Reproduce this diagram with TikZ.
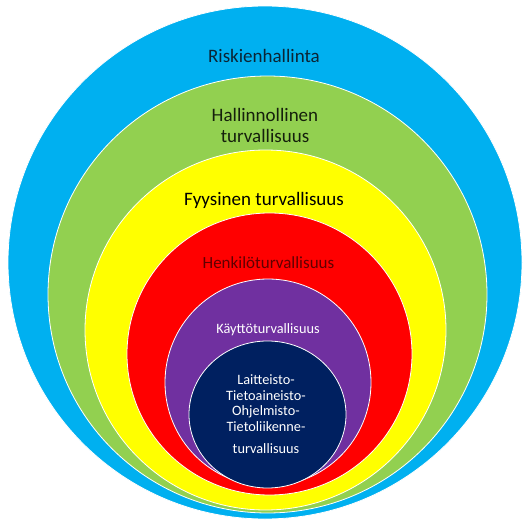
\documentclass[tikz,border=0pt]{standalone}
\usepackage{fontspec}
\setmainfont{Carlito}
\definecolor{cblue}{HTML}{00B0F0}
\definecolor{cgreen}{HTML}{92D050}
\definecolor{cyellow}{HTML}{FFFF00}
\definecolor{cred}{HTML}{FF0000}
\definecolor{cpurple}{HTML}{7030A0}
\definecolor{cnavy}{HTML}{002060}
\definecolor{tblue}{HTML}{0B2535}
\definecolor{tgreen}{HTML}{15200C}
\definecolor{tred}{HTML}{600000}
\begin{document}
\begin{tikzpicture}[x=1pt,y=-1pt,
  ring/.style={draw=white,line width=0.8pt},
  lab/.style={anchor=base,inner sep=0pt},
  big/.style={lab,font=\fontsize{19}{23}\selectfont},
  small/.style={lab,text=white,font=\fontsize{14.3}{17}\selectfont}]
\useasboundingbox (0,0) rectangle (531,530);
\fill[white] (0,0) rectangle (531,530);
\filldraw[ring,fill=cblue]   (265,262.5) ellipse [x radius=257,y radius=256.5];
\filldraw[ring,fill=cgreen]  (267.5,294.5) ellipse [x radius=219.5,y radius=218.5];
\filldraw[ring,fill=cyellow] (265.5,330) ellipse [x radius=180.5,y radius=180];
\filldraw[ring,fill=cred]    (269.5,354) ellipse [x radius=142.5,y radius=141];
\filldraw[ring,fill=cpurple] (268,382.5) ellipse [x radius=103,y radius=103.5];
\filldraw[ring,fill=cnavy]   (267.5,414.5) ellipse [x radius=78.5,y radius=73.5];
\node[big,text=tblue] (riski) at (264,62) {Riskienhallinta};
\node[big,text=tgreen] (hallinto1) at (265,121) {Hallinnollinen};
\node[big,text=tgreen] (hallinto2) at (265,142) {turvallisuus};
\node[big,text=black] (fyys) at (264,205) {Fyysinen turvallisuus};
\node[lab,text=tred,font=\fontsize{17}{20}\selectfont] (henk) at (268.5,268.5) {Henkilöturvallisuus};
\node[small] (kaytto) at (268,333) {Käyttöturvallisuus};
\node[small] (l1) at (266,384) {Laitteisto-};
\node[small] (l2) at (266,400) {Tietoaineisto-};
\node[small] (l3) at (266,415.5) {Ohjelmisto-};
\node[small] (l4) at (266,431) {Tietoliikenne-};
\node[small] (l5) at (266,453) {turvallisuus};
\end{tikzpicture}
\end{document}
